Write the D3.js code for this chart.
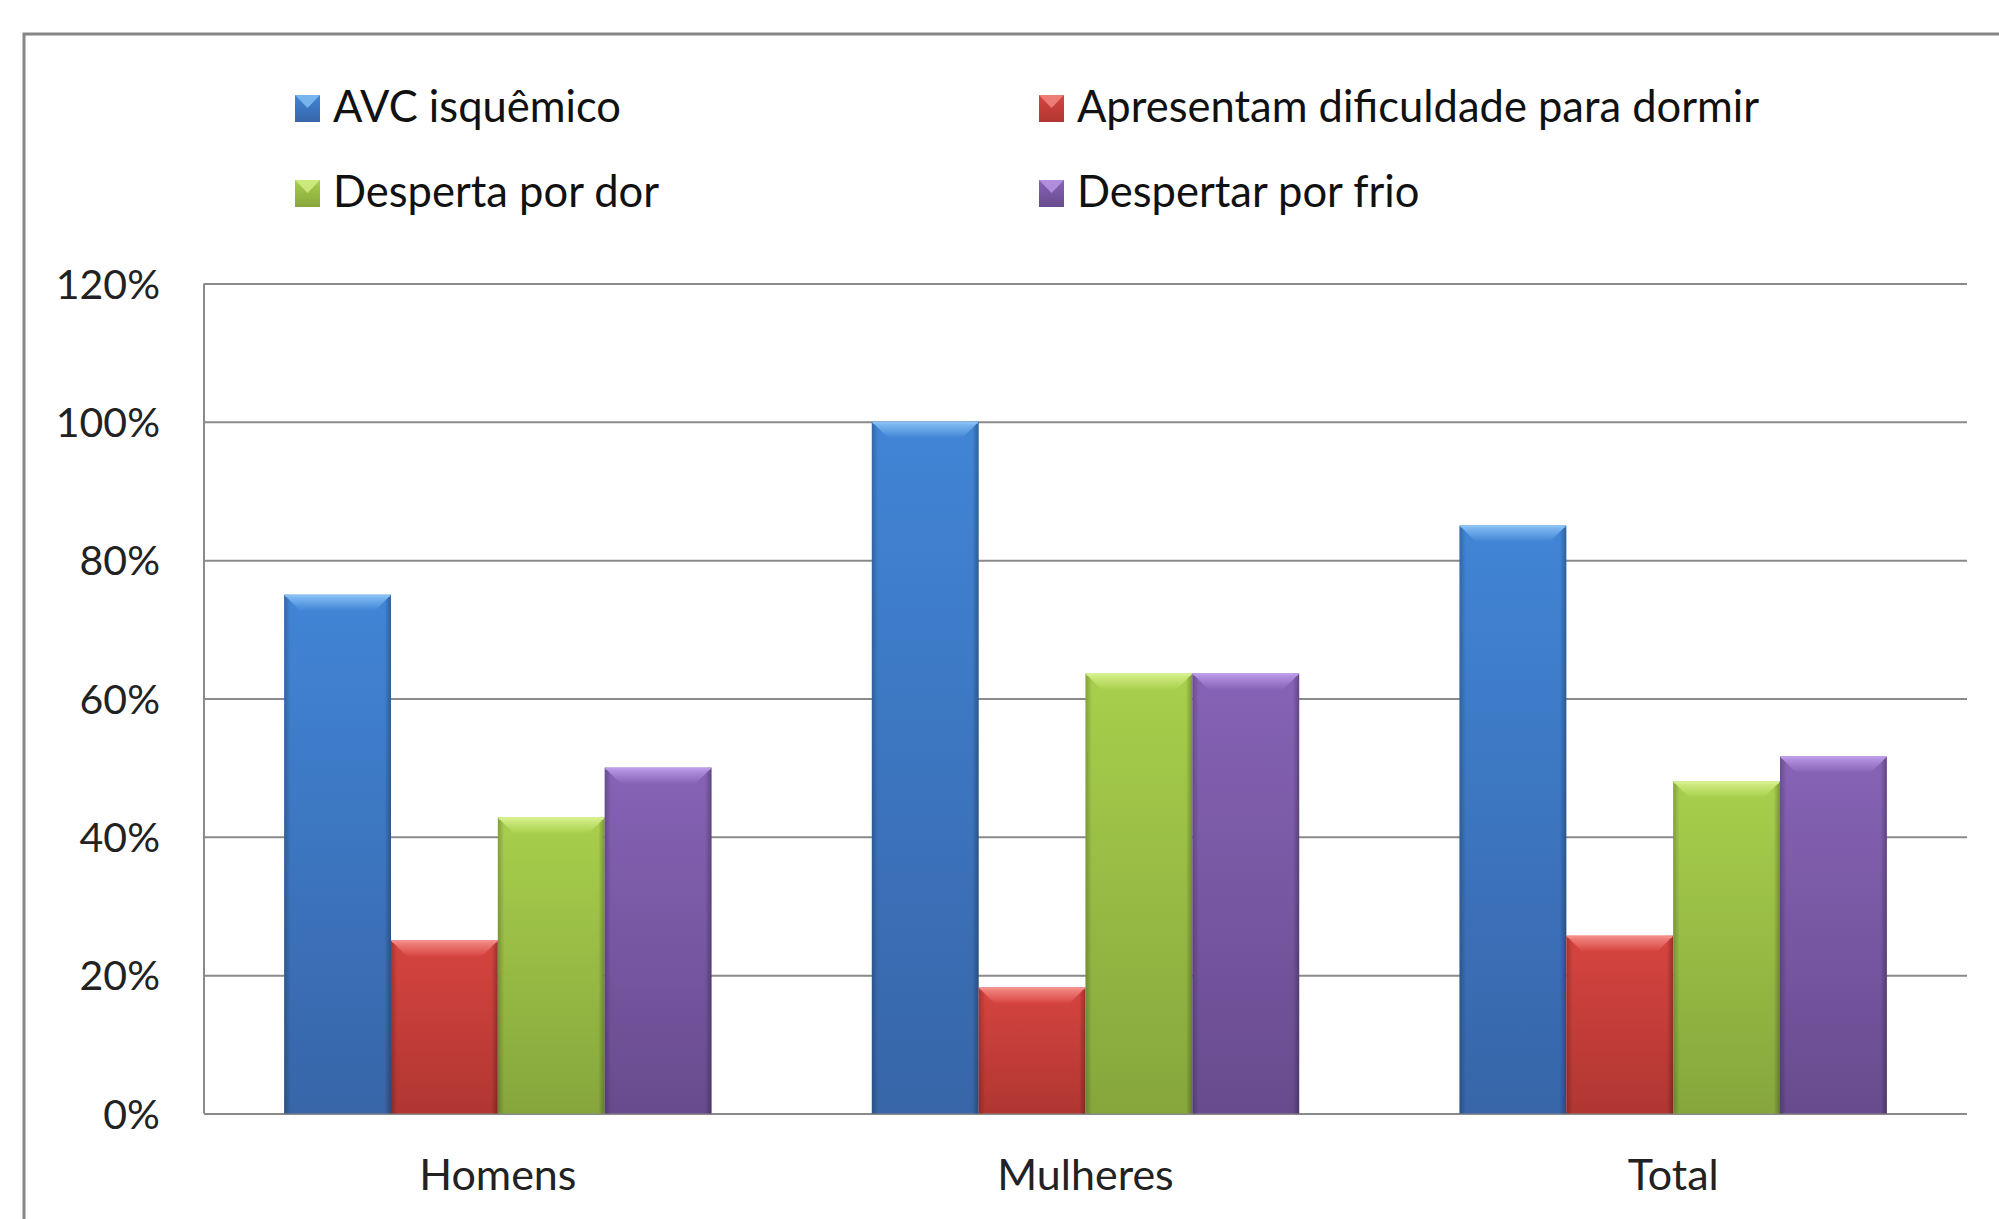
<!DOCTYPE html>
<html>
<head>
<meta charset="utf-8">
<script src="https://cdn.jsdelivr.net/npm/d3@7"></script>
<style>
  html, body { margin: 0; padding: 0; background: #fff; }
  svg { display: block; font-family: Lato, "Open Sans", sans-serif; }
</style>
</head>
<body>
<svg id="vis-svg" width="1999" height="1219"></svg>
<script>
// data
const categories = ["Homens", "Mulheres", "Total"]
const series = ["AVC isquêmico", "Apresentam dificuldade para dormir", "Desperta por dor", "Despertar por frio"]
const avc = [0.75, 1.00, 0.85]
const dificuldade = [0.25, 0.182, 0.257]
const dor = [0.428, 0.636, 0.48]
const frio = [0.50, 0.636, 0.516]
const yTicks = [0, 0.2, 0.4, 0.6, 0.8, 1.0, 1.2]

const values = [avc, dificuldade, dor, frio]

// colours: [bevel light, top, bottom]
const palette = [
  ["#86c0f4", "#4185d6", "#3765a8"],
  ["#f48b86", "#d6443f", "#b03632"],
  ["#d6f08a", "#a8cf4c", "#86a63c"],
  ["#bb9ae8", "#8663b6", "#684b8e"]
]

const font = "Lato, 'Open Sans', sans-serif"
const svg = d3.select("#vis-svg")
const defs = svg.append("defs")

palette.forEach((c, i) => {
  const g = defs.append("linearGradient").attr("id", `body${i}`)
    .attr("x1", 0).attr("y1", 0).attr("x2", 0).attr("y2", 1)
  g.append("stop").attr("offset", "0%").attr("stop-color", c[1])
  g.append("stop").attr("offset", "100%").attr("stop-color", c[2])

  const b = defs.append("linearGradient").attr("id", `bevel${i}`)
    .attr("x1", 0).attr("y1", 0).attr("x2", 0).attr("y2", 1)
  b.append("stop").attr("offset", "0%").attr("stop-color", c[0])
  b.append("stop").attr("offset", "100%").attr("stop-color", c[1])

  const s = defs.append("linearGradient").attr("id", `side${i}`)
    .attr("x1", 0).attr("y1", 0).attr("x2", 1).attr("y2", 0)
  s.append("stop").attr("offset", "0%").attr("stop-color", "#000").attr("stop-opacity", 0.22)
  s.append("stop").attr("offset", "6%").attr("stop-color", "#000").attr("stop-opacity", 0)
  s.append("stop").attr("offset", "94%").attr("stop-color", "#000").attr("stop-opacity", 0)
  s.append("stop").attr("offset", "100%").attr("stop-color", "#000").attr("stop-opacity", 0.28)
})

// outer frame
svg.append("rect")
  .attr("x", 24).attr("y", 34)
  .attr("width", 2100).attr("height", 1400)
  .attr("fill", "none").attr("stroke", "#858585").attr("stroke-width", 3)

// scales
const x0 = d3.scaleBand().domain(categories).range([204, 1967])
const x1 = d3.scaleBand().domain(d3.range(series.length))
  .range([0, x0.bandwidth()]).paddingOuter(0.75)
const y = d3.scaleLinear().domain([0, 1.2]).range([1113.5, 283.5])

// gridlines + y labels
const yAxis = svg.append("g")
  .attr("transform", "translate(204,0)")
  .call(d3.axisLeft(y).tickValues(yTicks).tickFormat(d3.format(".0%"))
    .tickSize(-(1967 - 204)).tickPadding(44))
  .attr("font-family", font)
yAxis.select(".domain").remove()
yAxis.selectAll(".tick line").attr("stroke", "#8a8a8a").attr("stroke-width", 2)
yAxis.selectAll(".tick text")
  .attr("font-size", 41).attr("fill", "#222").attr("dy", "0.36em")

svg.append("line")
  .attr("x1", 204).attr("x2", 204).attr("y1", y(1.2)).attr("y2", y(0))
  .attr("stroke", "#8a8a8a").attr("stroke-width", 2)

// x labels
const xAxis = svg.append("g")
  .attr("transform", `translate(0,${y(0)})`)
  .call(d3.axisBottom(x0).tickSize(0).tickPadding(46))
  .attr("font-family", font)
xAxis.select(".domain").remove()
xAxis.selectAll(".tick text").attr("font-size", 43).attr("fill", "#222")

// bars
const bevel = 16
const groups = svg.append("g").selectAll("g")
  .data(categories)
  .join("g")
  .attr("transform", d => `translate(${x0(d)},0)`)

groups.each(function (cat, ci) {
  const g = d3.select(this)
  series.forEach((name, si) => {
    const v = values[si][ci]
    const bx = x1(si), bw = x1.bandwidth()
    const by = y(v), bh = y(0) - y(v)
    const bar = g.append("g")
    bar.append("rect")
      .attr("x", bx).attr("y", by).attr("width", bw).attr("height", bh)
      .attr("fill", `url(#body${si})`)
    bar.append("rect")
      .attr("x", bx).attr("y", by).attr("width", bw).attr("height", bh)
      .attr("fill", `url(#side${si})`)
    bar.append("path")
      .attr("d", `M${bx},${by}L${bx + bw},${by}L${bx + bw - bevel},${by + bevel}L${bx + bevel},${by + bevel}Z`)
      .attr("fill", `url(#bevel${si})`)
    bar.append("line")
      .attr("x1", bx + 1).attr("x2", bx + bw - 1).attr("y1", by + 1).attr("y2", by + 1)
      .attr("stroke", palette[si][0]).attr("stroke-width", 2)
  })
})

// legend
const legendPos = [[295, 122], [1039, 122], [295, 207], [1039, 207]]
const legend = svg.append("g").selectAll("g")
  .data(series)
  .join("g")
  .attr("transform", (d, i) => `translate(${legendPos[i][0]},${legendPos[i][1]})`)

legend.append("rect")
  .attr("x", 0).attr("y", -27).attr("width", 25).attr("height", 27)
  .attr("fill", (d, i) => `url(#body${i})`)
legend.append("path")
  .attr("d", "M0,-27L25,-27L12.5,-14Z")
  .attr("fill", (d, i) => palette[i][0]).attr("opacity", 0.8)
legend.append("text")
  .attr("x", 38).attr("y", 0)
  .attr("font-size", 43.5).attr("fill", "#111")
  .text(d => d)
</script>
</body>
</html>
